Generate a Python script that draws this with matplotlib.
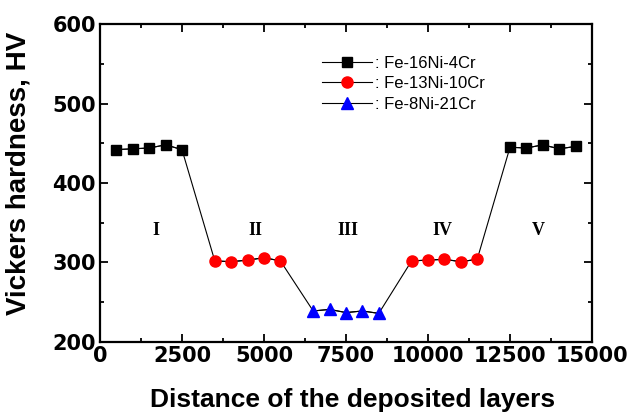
import numpy as np
import matplotlib.pyplot as plt
from matplotlib.ticker import MultipleLocator

plt.rcParams['font.family'] = ['Liberation Sans', 'DejaVu Sans']
plt.rcParams['font.weight'] = 'bold'

# layer positions and hardness values (HV)
x_zone1 = [500, 1000, 1500, 2000, 2500]
hv_zone1 = [442, 443, 444, 448, 442]
x_zone2 = [3500, 4000, 4500, 5000, 5500]
hv_zone2 = [302, 301, 303, 306, 302]
x_zone3 = [6500, 7000, 7500, 8000, 8500]
hv_zone3 = [239, 241, 237, 239, 236]
x_zone4 = [9500, 10000, 10500, 11000, 11500]
hv_zone4 = [302, 303, 304, 301, 304]
x_zone5 = [12500, 13000, 13500, 14000, 14500]
hv_zone5 = [445, 444, 448, 443, 446]

zone_names = ['I', 'II', 'III', 'IV', 'V']
zone_x = [1700, 4750, 7550, 10450, 13350]
zone_y = 340

labels = [': Fe-16Ni-4Cr', ': Fe-13Ni-10Cr', ': Fe-8Ni-21Cr']

fig = plt.figure(figsize=(6.3, 4.19), dpi=100)
ax = fig.add_axes([0.1587, 0.1838, 0.781, 0.7589])

x_all = x_zone1 + x_zone2 + x_zone3 + x_zone4 + x_zone5
hv_all = hv_zone1 + hv_zone2 + hv_zone3 + hv_zone4 + hv_zone5
ax.plot(x_all, hv_all, '-', color='k', lw=0.8, zorder=2)

ax.plot(x_zone1, hv_zone1, '-', color='k', lw=0.8, marker='s', ms=7,
        mfc='k', mec='k', label=labels[0], zorder=3)
ax.plot(x_zone2, hv_zone2, '-', color='k', lw=0.8, marker='o', ms=8,
        mfc='red', mec='red', label=labels[1], zorder=3)
ax.plot(x_zone3, hv_zone3, '-', color='k', lw=0.8, marker='^', ms=9,
        mfc='blue', mec='blue', label=labels[2], zorder=3)
ax.plot(x_zone4, hv_zone4, '-', color='k', lw=0.8, marker='o', ms=8,
        mfc='red', mec='red', zorder=3)
ax.plot(x_zone5, hv_zone5, '-', color='k', lw=0.8, marker='s', ms=7,
        mfc='k', mec='k', zorder=3)

for name, zx in zip(zone_names, zone_x):
    ax.text(zx, zone_y, name, ha='center', va='center', fontsize=13,
            family='Liberation Serif', fontweight='bold')

ax.set_xlim(0, 15000)
ax.set_ylim(200, 600)
ax.xaxis.set_major_locator(MultipleLocator(2500))
ax.xaxis.set_minor_locator(MultipleLocator(1250))
ax.yaxis.set_major_locator(MultipleLocator(100))
ax.yaxis.set_minor_locator(MultipleLocator(50))
ax.tick_params(which='both', direction='in', top=True, right=True, width=1.3)
ax.tick_params(which='major', length=6, labelsize=15, pad=3)
ax.tick_params(which='minor', length=3)
for lab in ax.get_xticklabels() + ax.get_yticklabels():
    lab.set_family('DejaVu Sans')
for sp in ax.spines.values():
    sp.set_linewidth(1.6)

ax.set_xlabel('Distance of the deposited layers', fontsize=19, fontweight='bold')
ax.set_ylabel('Vickers hardness, HV', fontsize=20, fontweight='bold')
ax.xaxis.set_label_coords(0.514, -0.145)
ax.yaxis.set_label_coords(-0.14, 0.53)

leg = ax.legend(loc='upper left', bbox_to_anchor=(0.42, 0.947), frameon=False,
                fontsize=12, handlelength=3.0, handletextpad=0.2, labelspacing=0.32)
for t in leg.get_texts():
    t.set_fontweight('normal')

fig.savefig('out.png', dpi=100)
